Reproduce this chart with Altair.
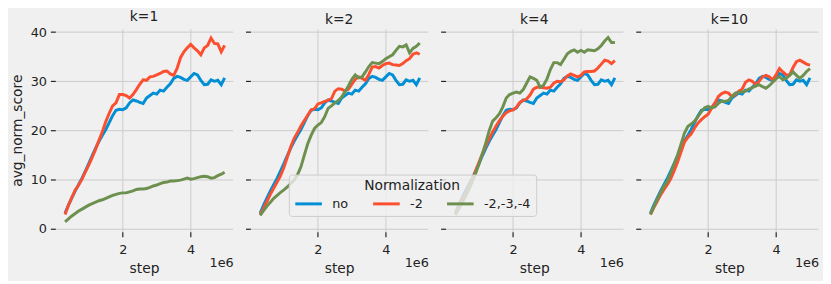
import altair as alt
import pandas as pd

# x values in units of 1e6 steps
steps = [0.3, 0.4, 0.5, 0.6, 0.7, 0.8, 0.9, 1.0, 1.1, 1.2,
         1.3, 1.4, 1.5, 1.6, 1.7, 1.8, 1.9, 2.0, 2.1, 2.2,
         2.3, 2.4, 2.5, 2.6, 2.7, 2.8, 2.9, 3.0, 3.1, 3.2,
         3.3, 3.4, 3.5, 3.6, 3.7, 3.8, 3.9, 4.0, 4.1, 4.2,
         4.3, 4.4, 4.5, 4.6, 4.7, 4.8, 4.9, 5.0]

# "no" normalization baseline (same in every panel)
no_norm = [3.2, 4.8, 6.3, 7.7, 9.0, 10.3, 11.8, 13.3, 14.9, 16.4,
           17.8, 19.0, 20.2, 21.6, 23.0, 24.1, 24.3, 24.2, 24.6, 25.6,
           26.2, 26.0, 25.7, 25.5, 26.6, 27.1, 27.6, 27.4, 28.2, 28.0,
           28.8, 29.5, 30.6, 31.0, 30.8, 30.4, 30.2, 30.9, 31.6, 31.3,
           30.2, 29.3, 29.4, 30.3, 30.0, 30.2, 29.3, 30.7]

k1_m2 = [2.9, 4.8, 6.4, 7.9, 8.9, 10.1, 11.6, 13.0, 14.5, 16.2,
         18.0, 19.8, 21.8, 23.5, 25.0, 25.6, 27.3, 27.3, 27.1, 26.6,
         27.3, 28.3, 29.4, 30.3, 30.2, 30.9, 31.0, 31.3, 31.6, 32.0,
         32.1, 31.5, 31.2, 32.6, 34.8, 36.0, 36.8, 37.5, 36.8, 36.2,
         35.4, 36.8, 37.3, 38.8, 37.7, 37.6, 36.0, 37.3]
k1_m234 = [1.4, 2.0, 2.6, 3.1, 3.6, 4.0, 4.4, 4.8, 5.1, 5.4,
           5.7, 5.9, 6.2, 6.5, 6.8, 7.0, 7.2, 7.3, 7.3, 7.5,
           7.7, 8.0, 8.1, 8.1, 8.2, 8.4, 8.7, 8.9, 9.2, 9.4,
           9.5, 9.7, 9.7, 9.8, 9.9, 10.1, 10.3, 10.1, 10.2, 10.4,
           10.6, 10.7, 10.6, 10.3, 10.4, 10.8, 11.1, 11.5]

k2_m2 = [2.9, 4.2, 5.6, 7.0, 8.3, 9.5, 10.8, 12.5, 14.6, 16.7,
         18.4, 19.6, 20.9, 22.0, 23.1, 24.2, 24.4, 25.4, 25.6, 25.9,
         26.1, 26.5, 28.0, 28.5, 28.4, 28.0, 28.4, 29.4, 30.4, 30.9,
         30.6, 30.2, 31.4, 32.9, 33.0, 32.7, 33.2, 33.6, 33.7, 33.4,
         33.3, 33.2, 33.6, 34.2, 34.6, 35.5, 35.8, 35.5]
k2_m234 = [2.7, 3.7, 4.6, 5.4, 6.2, 6.8, 7.4, 7.9, 8.5, 9.2,
           9.9, 11.0, 12.6, 15.0, 17.3, 19.0, 20.4, 21.1, 21.6, 22.8,
           24.5, 25.0, 25.6, 26.1, 26.8, 27.9, 29.1, 30.4, 31.3, 30.7,
           30.9, 31.9, 33.0, 33.8, 33.7, 33.6, 34.0, 34.6, 35.0, 35.4,
           36.3, 37.1, 37.0, 37.4, 35.8, 36.7, 37.1, 37.8]

k4_m2 = [3.0, 4.4, 5.8, 7.1, 8.5, 10.0, 11.8, 13.6, 15.3, 16.9,
         18.3, 19.7, 20.9, 22.0, 22.9, 23.6, 24.0, 24.2, 24.7, 25.7,
         26.1, 26.4, 27.2, 28.4, 28.8, 28.8, 28.7, 28.6, 28.8, 29.6,
         30.0, 29.9, 30.3, 31.1, 31.5, 31.2, 30.9, 31.2, 31.9, 32.0,
         32.0, 32.1, 32.7, 33.5, 34.3, 34.1, 33.6, 34.2]
k4_m234 = [2.8, 4.0, 5.3, 6.6, 8.0, 9.6, 11.3, 13.2, 15.3, 17.5,
           20.0, 21.9, 22.6, 23.4, 24.8, 26.6, 27.3, 27.6, 27.8, 27.6,
           28.3, 29.6, 30.9, 30.6, 30.2, 28.8, 29.2, 30.5, 32.4, 33.8,
           33.8, 33.4, 34.5, 35.6, 36.1, 36.4, 35.9, 36.3, 35.9, 36.4,
           36.3, 36.2, 36.6, 37.3, 38.2, 38.9, 37.9, 37.9]

k10_m2 = [2.9, 4.3, 5.6, 6.9, 8.0, 9.0, 10.2, 11.8, 13.6, 15.6,
          17.6, 18.6, 19.3, 20.5, 21.5, 22.2, 22.8, 23.3, 24.5, 25.6,
          26.9, 27.5, 27.8, 27.6, 26.9, 27.3, 28.0, 28.4, 29.8, 30.3,
          30.0, 29.3, 30.0, 30.9, 31.2, 30.9, 30.3, 31.3, 32.6, 31.9,
          31.3, 31.3, 32.8, 34.0, 34.3, 33.9, 33.5, 33.3]
k10_m234 = [2.9, 4.5, 6.0, 7.4, 8.7, 9.7, 11.4, 13.2, 15.0, 17.2,
            19.4, 20.8, 21.3, 21.9, 22.8, 23.8, 24.6, 24.9, 24.6, 24.8,
            25.5, 26.0, 25.9, 26.1, 26.9, 27.6, 27.8, 27.8, 28.0, 28.4,
            28.7, 29.0, 29.3, 28.9, 28.6, 29.1, 29.8, 30.5, 31.0, 30.3,
            30.6, 31.2, 31.9, 31.2, 30.6, 31.2, 32.0, 32.6]

panels = ["k=1", "k=2", "k=4", "k=10"]
norms = ["no", "-2", "-2,-3,-4"]
colors = ["#008fd5", "#fc4f30", "#6d904f"]
panel_series = {
    "k=1": [no_norm, k1_m2, k1_m234],
    "k=2": [no_norm, k2_m2, k2_m234],
    "k=4": [no_norm, k4_m2, k4_m234],
    "k=10": [no_norm, k10_m2, k10_m234],
}

W, H = 180, 206
FONT = "DejaVu Sans"
TXT = "#222222"

color_scale = alt.Scale(domain=norms, range=colors)
legend = alt.Legend(
    title="Normalization", orient="none", legendX=237, legendY=148,
    direction="horizontal", columns=3,
    symbolType="M-1,0H4.4", symbolSize=100,
    symbolStrokeWidth=3, labelOffset=26, columnPadding=18, padding=5,
    fillColor="rgba(240,240,240,0.8)", strokeColor="#cccccc", cornerRadius=3,
    titleAnchor="middle", titleFontSize=14, titleFont=FONT, titleFontWeight="normal",
    titleColor=TXT, titlePadding=4, labelFontSize=13, labelFont=FONT, labelColor=TXT,
)


def panel(i, name):
    rows = []
    for n, vals in zip(norms, panel_series[name]):
        for s, v in zip(steps, vals):
            rows.append({"step": s, "score": v, "norm": n})
    df = pd.DataFrame(rows)

    x = alt.X("step:Q",
              scale=alt.Scale(domain=[0.0125, 5.2375], nice=False, zero=False),
              axis=alt.Axis(values=[2, 4], title="step", format="d", labelPadding=7,
                            titlePadding=5))
    yaxis_kw = dict(values=[0, 10, 20, 30, 40], labelPadding=4)
    if i == 0:
        yaxis_kw["title"] = "avg_norm_score"
        yaxis_kw["titlePadding"] = 6
    else:
        yaxis_kw["labels"] = False
        yaxis_kw["title"] = ""
    y = alt.Y("score:Q",
              scale=alt.Scale(domain=[-0.6, 40.7], nice=False, zero=False),
              axis=alt.Axis(**yaxis_kw))

    layers = []
    for j, n in enumerate(norms):
        c = alt.Color("norm:N", scale=color_scale,
                      legend=legend if (i == 0 and j == 0) else None)
        layers.append(
            alt.Chart(df).transform_filter(alt.datum.norm == n)
            .mark_line(strokeWidth=3)
            .encode(x=x, y=y, color=c)
        )
    txt = (alt.Chart(pd.DataFrame({"t": ["1e6"]}))
           .mark_text(align="right", baseline="alphabetic", fontSize=13, font=FONT, color=TXT)
           .encode(x=alt.value(W + 1), y=alt.value(H + 36), text="t:N"))
    return alt.layer(*layers, txt).properties(width=W, height=H, title=name)


chart = (
    alt.hconcat(*[panel(i, p) for i, p in enumerate(panels)], spacing=11)
    .properties(background="#f0f0f0", padding={"left": 2, "top": 0, "right": 4, "bottom": 4})
    .configure_view(stroke=None)
    .configure_axis(
        gridColor="#cbcbcb", gridWidth=1, domain=False, tickColor=TXT, tickSize=5,
        tickWidth=1.2, labelFont=FONT, labelFontSize=13, labelColor=TXT,
        titleFont=FONT, titleFontSize=14, titleFontWeight="normal", titleColor=TXT,
    )
    .configure_title(font=FONT, fontSize=14, fontWeight="normal", color=TXT, offset=2)
)

chart.save("out.html", embed_options={"renderer": "svg", "actions": False})
